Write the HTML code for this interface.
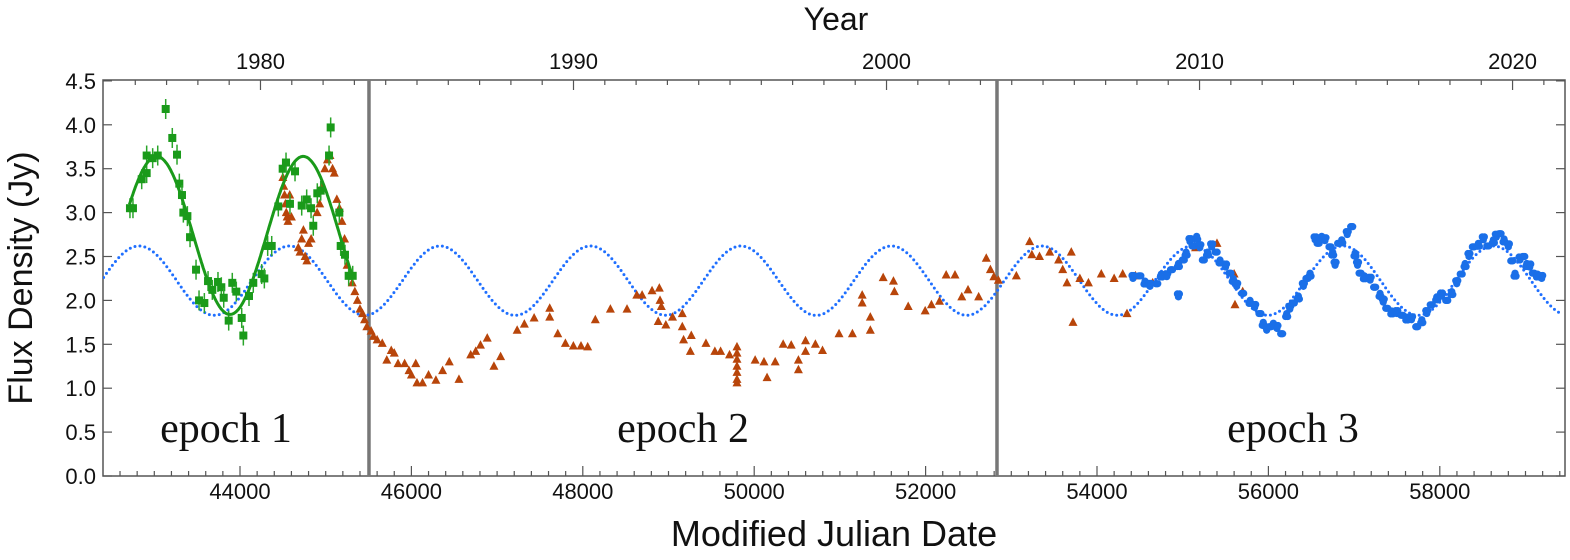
<!DOCTYPE html>
<html><head><meta charset="utf-8"><style>
body{margin:0;background:#fff;width:1570px;height:555px;overflow:hidden}
svg text{font-family:"Liberation Sans",sans-serif;fill:#111}
</style></head><body>
<svg id="chart" width="1570" height="555" xmlns="http://www.w3.org/2000/svg"></svg>
<script>
const xTicks=[44000,46000,48000,50000,52000,54000,56000,58000];
const yTicks=[0,0.5,1,1.5,2,2.5,3,3.5,4,4.5];
const yearTicks=[1980,1990,2000,2010,2020];
const epochBounds=[45505,52833];
const epochLabels=["epoch 1","epoch 2","epoch 3"];
const epochLabelX=[43837,49170,56287];
const modelParams=[2.225,0.395,1756,46334]; // mean, amp, period, peak MJD
const fitParams=[2.74,0.9,1710,43028,42710,45320];
const greenMJD=[42716,42751,42853,42911,42911,42981,43040,43133,43210,43265,43292,43323,43339,43386,43417,43487,43522,43584,43627,43677,43743,43782,43810,43868,43910,43957,44020,44039,44105,44155,44253,44284,44323,44370,44447,44498,44537,44583,44642,44720,44778,44829,44855,44902,44942,45039,45058,45159,45175,45225,45268,45315];
const greenJy=[3.05,3.05,3.38,3.45,3.65,3.62,3.65,4.18,3.85,3.66,3.33,3.2,3.0,2.96,2.72,2.35,2.0,1.97,2.22,2.12,2.21,2.15,2.03,1.77,2.2,2.1,1.8,1.6,2.05,2.2,2.3,2.25,2.62,2.62,3.07,3.5,3.57,3.1,3.47,3.08,3.15,3.05,2.85,3.22,3.25,3.65,3.97,3.0,2.62,2.52,2.28,2.28];
const orangeMJD=[44500,44510,44520,44530,44540,44550,44560,44580,44600,44680,44700,44720,44740,44760,44780,44800,44830,44900,44930,44960,44990,45020,45050,45080,45100,45130,45160,45190,45220,45250,45280,45310,45340,45370,45400,45430,45453,45480,45530,45557,45600,45660,45713,45765,45800,45844,45921,45972,46000,46051,46065,46130,46200,46286,46364,46442,46555,46692,46750,46806,46885,46963,47041,47234,47318,47432,47614,47614,47708,47797,47890,47979,48057,48146,48322,48516,48630,48692,48808,48893,48901,48916,48880,48969,49047,49161,49161,49176,49266,49255,49437,49541,49608,49712,49799,49799,49799,49799,49799,49799,49799,50011,50114,50150,50245,50338,50432,50516,50516,50599,50599,50714,50797,50990,51146,51260,51260,51355,51355,51505,51625,51636,51797,51995,52068,52162,52240,52343,52422,52495,52619,52708,52756,52797,52849,53059,53214,53240,53329,53448,53552,53600,53650,53700,53720,53800,53900,54050,54200,54300,54350,54450,54650,55150,55400,55600,55610,55700];
const orangeJy=[3.4,3.3,3.2,3.1,3.0,2.95,2.9,3.2,2.95,2.6,2.55,2.7,2.8,2.5,2.45,2.65,2.7,3.0,3.1,3.3,3.5,3.6,3.65,3.5,3.45,3.15,3.05,2.9,2.7,2.4,2.3,2.2,2.1,2.0,1.9,1.85,1.78,1.7,1.65,1.59,1.55,1.51,1.32,1.43,1.4,1.28,1.28,1.2,1.15,1.28,1.06,1.06,1.15,1.09,1.2,1.3,1.1,1.38,1.42,1.49,1.57,1.25,1.36,1.66,1.73,1.8,1.91,1.81,1.62,1.51,1.48,1.48,1.47,1.78,1.9,1.9,2.06,2.06,2.11,2.14,2.0,1.93,1.76,1.72,1.81,1.85,1.7,1.55,1.6,1.42,1.51,1.42,1.42,1.38,1.47,1.4,1.33,1.25,1.18,1.1,1.06,1.32,1.3,1.12,1.3,1.5,1.49,1.21,1.32,1.54,1.42,1.5,1.43,1.62,1.62,2.06,1.97,1.81,1.66,2.26,2.22,2.1,1.93,1.88,1.95,1.99,2.29,2.29,2.04,2.12,2.04,2.48,2.35,2.27,2.23,2.28,2.67,2.52,2.5,2.55,2.46,2.35,2.2,2.55,1.75,2.25,2.2,2.3,2.25,2.3,1.85,2.28,2.2,2.6,2.65,2.3,1.95,2.1];
const blueMJD=[54420,54500,54560,54618,54697,54750,54814,54870,54950,54950,55007,55040,55085,55120,55163,55200,55241,55290,55338,55390,55436,55500,55552,55590,55630,55700,55786,55840,55902,55940,55980,56020,56058,56100,56155,56213,56250,56291,56350,56408,56450,56486,56545,56580,56622,56660,56719,56750,56778,56820,56856,56920,56972,57011,57040,57070,57120,57187,57240,57303,57340,57381,57440,57498,57560,57615,57670,57731,57790,57848,57900,57964,58020,58081,58140,58198,58250,58295,58340,58392,58450,58508,58560,58625,58660,58703,58750,58800,58840,58878,58936,58980,59014,59050,59092,59140,59189];
const blueJy=[2.25,2.28,2.22,2.16,2.19,2.3,2.27,2.35,2.42,2.04,2.46,2.55,2.67,2.62,2.73,2.6,2.46,2.55,2.61,2.55,2.46,2.38,2.31,2.25,2.16,2.08,2.0,1.92,1.85,1.75,1.66,1.7,1.74,1.68,1.62,1.85,1.9,1.97,2.05,2.16,2.25,2.31,2.69,2.65,2.73,2.68,2.61,2.55,2.4,2.65,2.69,2.75,2.84,2.54,2.4,2.31,2.28,2.23,2.15,2.08,1.98,1.91,1.88,1.85,1.83,1.81,1.78,1.7,1.78,1.85,1.95,2.04,2.05,2.0,2.1,2.19,2.3,2.42,2.5,2.61,2.65,2.69,2.62,2.69,2.72,2.76,2.7,2.61,2.45,2.31,2.46,2.5,2.42,2.38,2.31,2.3,2.25];

const svg=document.getElementById('chart');
const NS='http://www.w3.org/2000/svg';
const L=103,R=1565,T=80,B=476;
const xMin=42408,pxPer=0.0857;
const X=m=>240+(m-44000)*pxPer;
const Y=v=>B-v*87.8;
const yearMJD=y=>44239+(y-1980)*365.25;
function el(tag,attrs,parent){const e=document.createElementNS(NS,tag);for(const k in attrs)e.setAttribute(k,attrs[k]);(parent||svg).appendChild(e);return e;}

const clip=el('clipPath',{id:'pc'});el('rect',{x:L,y:T,width:R-L,height:B-T},clip);

const frame=el('rect',{x:L,y:T,width:R-L,height:B-T,fill:'none',stroke:'#555','stroke-width':1.5});



for(let m=42600;m<=59400;m+=200){const x=X(m);if(x<L||x>R)continue;const maj=m%2000===0;
 const t=el('line',{x1:x,x2:x,y1:B,y2:B-(maj?10:5),stroke:'#555','stroke-width':1.2});
 
 }
xTicks.forEach(m=>{const t=el('text',{x:X(m),y:499,'font-size':22,'text-anchor':'middle'});t.textContent=m;
 
 });
for(let y=1976;y<=2022;y++){const x=X(yearMJD(y));if(x<L||x>R)continue;const maj=y%10===0;
 const t=el('line',{x1:x,x2:x,y1:T,y2:T+(maj?10:5),stroke:'#555','stroke-width':1.2});
 
 }
yearTicks.forEach(y=>{const t=el('text',{x:X(yearMJD(y)),y:69,'font-size':22,'text-anchor':'middle'});t.textContent=y;
 
 });
yTicks.forEach(v=>{const y=Y(v);
 const a=el('line',{x1:L,x2:L+9,y1:y,y2:y,stroke:'#555','stroke-width':1.2});
 
 
 const b=el('line',{x1:R,x2:R-9,y1:y,y2:y,stroke:'#555','stroke-width':1.2});
 
 
 const t=el('text',{x:96,y:y+8,'font-size':22,'text-anchor':'end'});t.textContent=v.toFixed(1);
 
 });

const yt=el('text',{x:0,y:0,'font-size':34,'text-anchor':'middle',transform:'translate(32,278) rotate(-90)'});yt.textContent='Flux Density (Jy)';


const xt=el('text',{x:834,y:546,'font-size':36,'text-anchor':'middle'});xt.textContent='Modified Julian Date';


const tt=el('text',{x:836,y:30,'font-size':32,'text-anchor':'middle'});tt.textContent='Year';



epochBounds.forEach(m=>{const l=el('line',{x1:X(m),x2:X(m),y1:T,y2:B,stroke:'#777','stroke-width':3.5});
 
 });
epochLabels.forEach((s,i)=>{const t=el('text',{x:X(epochLabelX[i]),y:442,'font-size':42,'text-anchor':'middle',style:'font-family:"Liberation Serif",serif'});t.textContent=s;
 
 });

const g=el('g',{'clip-path':'url(#pc)'});



let d='';for(let m=xMin;m<=59400;m+=10){const v=modelParams[0]+modelParams[1]*Math.cos(2*Math.PI*(m-modelParams[3])/modelParams[2]);d+=(d?'L':'M')+X(m).toFixed(1)+','+Y(v).toFixed(1);}
const mc=el('path',{d,fill:'none',stroke:'#1f6fff','stroke-width':3,'stroke-dasharray':'0 5','stroke-linecap':'round'},g);



orangeMJD.forEach((m,i)=>{const x=X(m),y=Y(orangeJy[i]);
 const p=el('polygon',{points:`${x},${y-5} ${x-4.5},${y+3.5} ${x+4.5},${y+3.5}`,fill:'#b8450a'},g);
 
 });
greenMJD.forEach((m,i)=>{const x=X(m),y=Y(greenJy[i]);
 el('line',{x1:x,x2:x,y1:y-10,y2:y+10,stroke:'#2aa52a','stroke-width':1.5},g);
 const p=el('rect',{x:x-4,y:y-4,width:8,height:8,fill:'#1a9a1a'},g);
 
 });
d='';for(let m=fitParams[4];m<=fitParams[5];m+=10){const v=fitParams[0]+fitParams[1]*Math.cos(2*Math.PI*(m-fitParams[3])/fitParams[2]);d+=(d?'L':'M')+X(m).toFixed(1)+','+Y(v).toFixed(1);}
const fc=el('path',{d,fill:'none',stroke:'#1a9a1a','stroke-width':3},g);


blueMJD.forEach((m,i)=>{const x=X(m),y=Y(blueJy[i]);
 [-12,0,12].forEach(dm=>{const c=el('circle',{cx:X(m+dm),cy:y+(dm?((i%3)-1)*3:0),r:3.6,fill:'#1a6fe8'},g);
 
 });});
</script>
</body></html>
